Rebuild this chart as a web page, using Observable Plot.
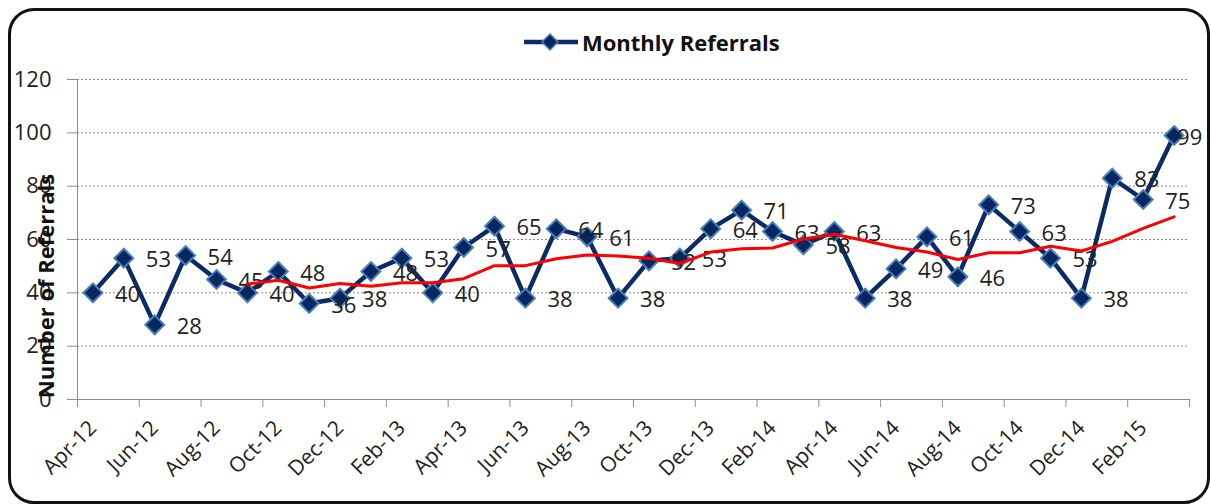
<!DOCTYPE html>
<html>
<head>
<meta charset="utf-8">
<script src="https://cdn.jsdelivr.net/npm/d3@7"></script>
<script src="https://cdn.jsdelivr.net/npm/@observablehq/plot@0.6"></script>
<style>
  html, body { margin: 0; padding: 0; background: #fff; }
  body { width: 1211px; height: 504px; position: relative; overflow: hidden; font-family: "Open Sans", "Noto Sans", sans-serif; }
  #frame { position: absolute; left: 8px; top: 8px; width: 1202px; height: 496px; box-sizing: border-box; border: 3px solid #111; border-radius: 26px; }
  #chart { position: absolute; left: 0; top: 0; }
  #legend { position: absolute; left: 523px; top: 27px; display: flex; align-items: center; gap: 3px; font-weight: bold; font-size: 22px; color: #111; }
  #ytitle { position: absolute; left: 45px; top: 286px; transform: translate(-50%, -50%) rotate(-90deg); white-space: nowrap; font-weight: bold; font-size: 22px; color: #111; }
</style>
</head>
<body>
<div id="frame"></div>
<div id="chart"></div>
<div id="legend"><svg width="56" height="22" viewBox="0 0 56 22"><line x1="1" y1="11" x2="55" y2="11" stroke="#0c2b66" stroke-width="4.5"/><path d="M27 3 L35 11 L27 19 L19 11 Z" fill="#06275f" stroke="#4a7ebb" stroke-width="1.5"/></svg><span>Monthly Referrals</span></div>
<div id="ytitle">Number of Referrals</div>
<script>
const months = ["Apr-12","May-12","Jun-12","Jul-12","Aug-12","Sep-12","Oct-12","Nov-12","Dec-12","Jan-13","Feb-13","Mar-13",
                "Apr-13","May-13","Jun-13","Jul-13","Aug-13","Sep-13","Oct-13","Nov-13","Dec-13","Jan-14","Feb-14","Mar-14",
                "Apr-14","May-14","Jun-14","Jul-14","Aug-14","Sep-14","Oct-14","Nov-14","Dec-14","Jan-15","Feb-15","Mar-15"];
const referrals = [40,53,28,54,45,40,48,36,38,48,53,40,
                   57,65,38,64,61,38,52,53,64,71,63,58,
                   63,38,49,61,46,73,63,53,38,83,75,99];
// red trend line (starts at Sep-12)
const trendStart = 5;
const trend = [43.3,44.7,41.8,43.5,42.5,43.8,43.8,45.3,50.2,50.2,52.8,54.2,53.8,53.0,51.0,55.3,
               56.5,56.8,60.2,62.0,59.5,57.0,55.3,52.5,55.0,55.0,57.5,55.7,59.3,64.2,68.5];
const yTicks = [0,20,40,60,80,100,120];

const data = months.map((m, i) => ({i, m, v: referrals[i]}));
const trendData = trend.map((v, k) => ({i: k + trendStart, v}));
const labelIdx = months.map((m, i) => i).filter(i => i % 2 === 0);
const boundaries = d3.range(0, months.length + 1, 2).map(i => i - 0.5);
const last = data.length - 1;

const chart = Plot.plot({
  width: 1211,
  height: 504,
  marginLeft: 77,
  marginRight: 22,
  marginTop: 79,
  marginBottom: 105,
  x: {type: "linear", domain: [-0.5, months.length - 0.5]},
  y: {domain: [0, 120]},
  style: {fontFamily: "'Open Sans', 'Noto Sans', sans-serif", background: "transparent", overflow: "visible"},
  marks: [
    Plot.gridY(yTicks, {stroke: "#8c8c8c", strokeOpacity: 1, strokeDasharray: "2,2"}),
    Plot.ruleY([0], {stroke: "#8c8c8c"}),
    Plot.ruleX([-0.5], {stroke: "#8c8c8c"}),
    Plot.axisY(yTicks, {tickSize: 10, tickPadding: 16, fontSize: 22, stroke: "#8c8c8c", fill: "#222", label: null}),
    Plot.axisX(boundaries, {tickSize: 8, tickFormat: () => "", stroke: "#8c8c8c", label: null}),
    Plot.axisX(labelIdx, {tickSize: 0, tickPadding: 25, tickRotate: -45, fontSize: 21, fill: "#222",
                          tickFormat: i => months[i], label: null}),
    Plot.line(data, {x: "i", y: "v", stroke: "#0c2b66", strokeWidth: 4.5, strokeLinejoin: "round"}),
    Plot.dot(data, {x: "i", y: "v", symbol: "diamond2", r: 8.5, fill: "#06275f", stroke: "#4a7ebb", strokeWidth: 2}),
    Plot.text(data.filter(d => d.i < last), {x: "i", y: "v", text: d => String(d.v), textAnchor: "start", dx: 22, dy: 2, fontSize: 22, fill: "#222"}),
    Plot.text(data.filter(d => d.i === last), {x: "i", y: "v", text: d => String(d.v), textAnchor: "start", dx: 3, dy: 2, fontSize: 22, fill: "#222"}),
    Plot.line(trendData, {x: "i", y: "v", stroke: "#ff0000", strokeWidth: 3})
  ]
});
document.getElementById("chart").appendChild(chart);
</script>
</body>
</html>
